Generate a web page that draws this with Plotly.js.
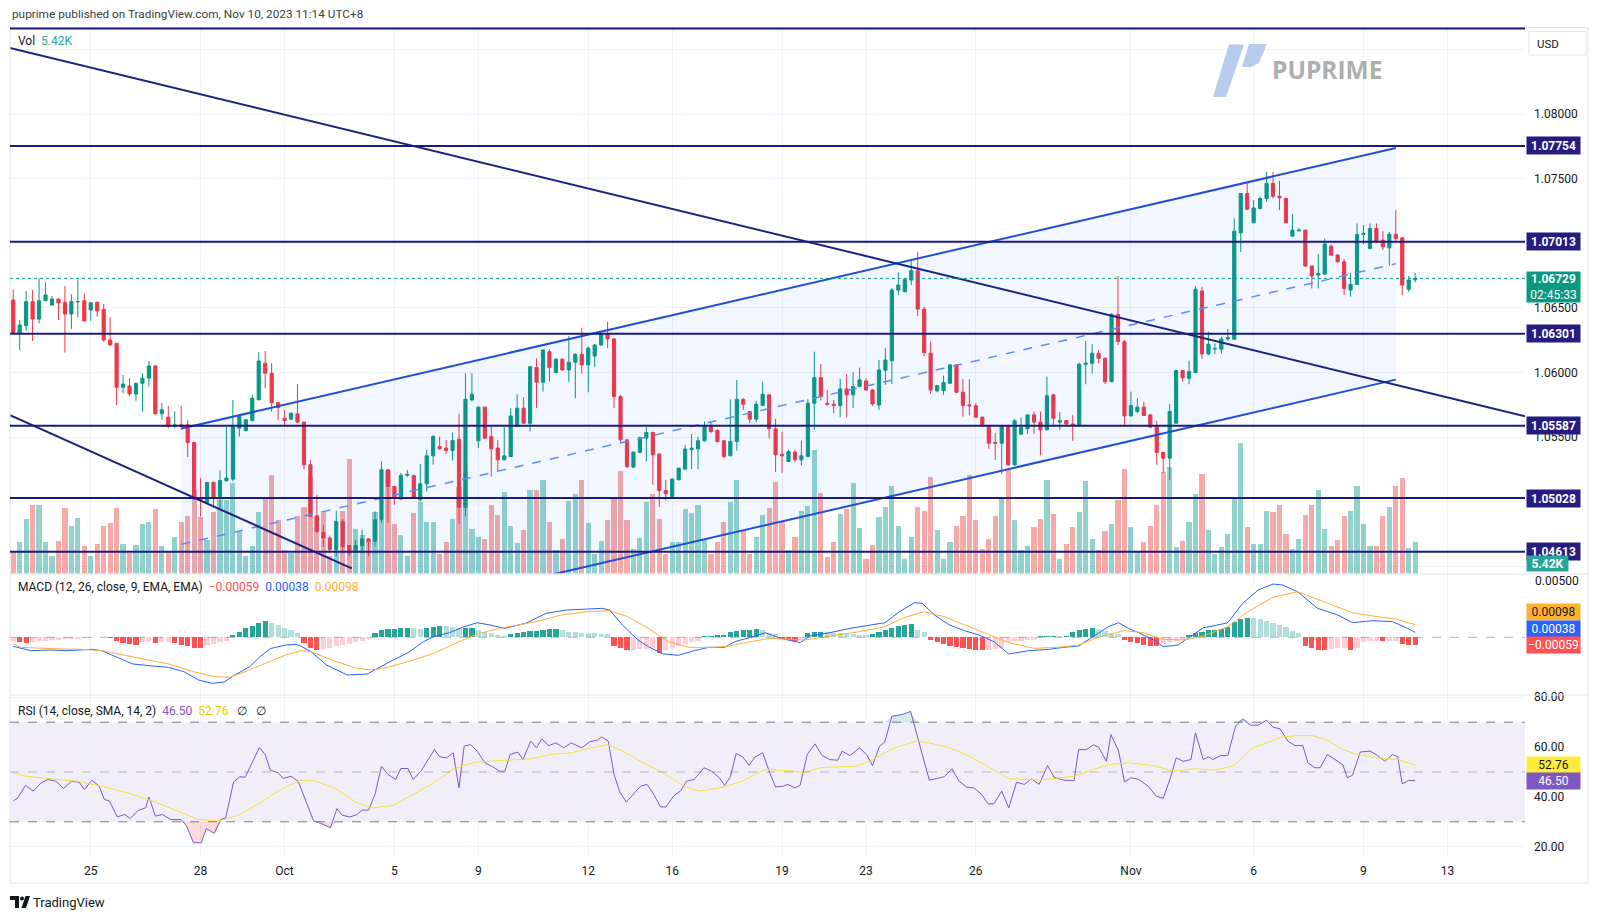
<!DOCTYPE html>
<html><head><meta charset="utf-8">
<script src="https://cdn.plot.ly/plotly-3.0.1.min.js"></script>
<style>html,body{margin:0;padding:0;background:#fff;}#chart{width:1600px;height:919px;}</style>
</head><body><div id="chart"></div>
<script>
// ---------- DATA (EURUSD 4H) ----------
const open = [1.06561,1.06303,1.06362,1.06548,1.06414,1.06556,1.06522,1.06569,1.06543,1.06453,
1.06548,1.06556,1.06484,1.06543,1.06489,1.06252,1.06226,1.05886,1.05896,1.05834,
1.05917,1.05956,1.06051,1.05680,1.05654,1.05582,1.05595,1.05595,1.05458,1.05030,
1.04994,1.05149,1.05041,1.05162,1.05175,1.05569,1.05551,1.05628,1.05788,1.06072,
1.05994,1.05767,1.05646,1.05639,1.05680,1.05616,1.05286,1.04891,1.04762,1.04719,
1.04629,1.04848,1.04660,1.04616,1.04660,1.04712,1.04693,1.04860,1.05247,1.05118,
1.05020,1.05204,1.05201,1.05015,1.05139,1.05355,1.05427,1.05415,1.05396,1.05484,
1.04956,1.05788,1.05471,1.05732,1.05504,1.05415,1.05324,1.05350,1.05582,1.05724,
1.05608,1.06038,1.05925,1.06161,1.05999,1.06103,1.06020,1.06080,1.06141,1.06059,
1.06128,1.06213,1.06303,1.06260,1.05814,1.05479,1.05268,1.05381,1.05492,1.05535,
1.05368,1.05087,1.05041,1.05170,1.05252,1.05402,1.05409,1.05471,1.05582,1.05551,
1.05471,1.05355,1.05466,1.05793,1.05698,1.05639,1.05744,1.05827,1.05564,1.05368,
1.05311,1.05384,1.05324,1.05350,1.05762,1.05960,1.05762,1.05755,1.05744,1.05873,
1.05827,1.05891,1.05935,1.05865,1.05749,1.06018,1.06092,1.06638,1.06625,1.06716,
1.06788,1.06491,1.06149,1.05858,1.05860,1.05917,1.06059,1.05847,1.05749,1.05742,
1.05654,1.05587,1.05458,1.05453,1.05587,1.05286,1.05523,1.05564,1.05672,1.05616,
1.05556,1.05827,1.05616,1.05628,1.05602,1.05587,1.06064,1.06072,1.06149,1.06110,
1.05929,1.06450,1.06239,1.05664,1.05698,1.05732,1.05672,1.05582,1.05381,1.05337,
1.05608,1.06015,1.05956,1.05999,1.06631,1.06144,1.06182,1.06180,1.06260,1.06257,
1.07081,1.07386,1.07159,1.07270,1.07347,1.07463,1.07365,1.07347,1.07056,1.07097,
1.07102,1.06824,1.06754,1.06762,1.06978,1.06909,1.06857,1.06638,1.06682,1.07069,
1.06961,1.07115,1.07025,1.06965,1.07071,1.07043,1.06644,1.06718];
const high = [1.06638,1.06406,1.06631,1.06638,1.06729,1.06698,1.06592,1.06574,1.06669,1.06605,
1.06721,1.06613,1.06540,1.06548,1.06530,1.06427,1.06226,1.05981,1.05956,1.05922,
1.05994,1.06089,1.06055,1.05763,1.05742,1.05698,1.05742,1.05634,1.05466,1.05185,
1.05149,1.05156,1.05242,1.05580,1.05788,1.05672,1.05639,1.05827,1.06157,1.06167,
1.06072,1.05767,1.05711,1.05690,1.05911,1.05616,1.05324,1.05054,1.04822,1.04737,
1.04932,1.04866,1.04660,1.04706,1.04783,1.04719,1.04925,1.05311,1.05252,1.05118,
1.05221,1.05247,1.05209,1.05293,1.05402,1.05517,1.05504,1.05479,1.05535,1.05680,
1.05994,1.05994,1.05736,1.05736,1.05582,1.05479,1.05577,1.05724,1.05832,1.05809,
1.06045,1.06110,1.06175,1.06180,1.06110,1.06110,1.06283,1.06149,1.06347,1.06200,
1.06219,1.06308,1.06393,1.06265,1.05827,1.05487,1.05388,1.05504,1.05577,1.05543,
1.05376,1.05170,1.05180,1.05260,1.05440,1.05525,1.05504,1.05621,1.05621,1.05561,
1.05479,1.05793,1.05943,1.05801,1.05703,1.05780,1.05929,1.05832,1.05641,1.05543,
1.05402,1.05402,1.05473,1.05793,1.06161,1.06066,1.05865,1.05788,1.05950,1.05987,
1.06002,1.06038,1.05956,1.05871,1.06097,1.06188,1.06651,1.06775,1.06721,1.06870,
1.06934,1.06509,1.06239,1.05904,1.05976,1.06064,1.06064,1.05950,1.05950,1.05762,
1.05659,1.05595,1.05530,1.05595,1.05595,1.05641,1.05651,1.05672,1.05698,1.05698,
1.05968,1.05832,1.05693,1.05628,1.05672,1.06076,1.06244,1.06219,1.06175,1.06115,
1.06458,1.06747,1.06252,1.05852,1.05801,1.05770,1.05677,1.05626,1.05388,1.05757,
1.06020,1.06020,1.06092,1.06669,1.06664,1.06316,1.06226,1.06277,1.06337,1.07193,
1.07390,1.07463,1.07334,1.07360,1.07553,1.07553,1.07483,1.07355,1.07226,1.07120,
1.07107,1.06824,1.06917,1.07038,1.06992,1.06917,1.06878,1.06772,1.07154,1.07141,
1.07154,1.07154,1.07094,1.07089,1.07257,1.07046,1.06747,1.06770];
const low = [1.06303,1.06170,1.06321,1.06244,1.06380,1.06556,1.06517,1.06406,1.06154,1.06337,
1.06427,1.06399,1.06401,1.06432,1.06239,1.06208,1.05749,1.05839,1.05815,1.05782,
1.05698,1.05891,1.05680,1.05634,1.05569,1.05569,1.05556,1.05345,1.05015,1.04886,
1.04990,1.04951,1.04951,1.05154,1.05156,1.05504,1.05543,1.05621,1.05788,1.05878,
1.05698,1.05634,1.05582,1.05634,1.05608,1.05252,1.04886,1.04757,1.04649,1.04603,
1.04577,1.04603,1.04577,1.04603,1.04603,1.04577,1.04654,1.04835,1.04835,1.04976,
1.05015,1.05193,1.05028,1.05002,1.05079,1.05286,1.05402,1.05370,1.05319,1.04829,
1.04886,1.05775,1.05415,1.05484,1.05195,1.05234,1.05324,1.05350,1.05582,1.05602,
1.05543,1.05724,1.05852,1.05929,1.05994,1.06015,1.05929,1.05801,1.05994,1.05847,
1.06045,1.06205,1.06188,1.05724,1.05453,1.05260,1.05260,1.05376,1.05311,1.05131,
1.04959,1.05010,1.05036,1.05164,1.05252,1.05252,1.05252,1.05466,1.05530,1.05458,
1.05337,1.05355,1.05396,1.05711,1.05608,1.05616,1.05742,1.05492,1.05229,1.05221,
1.05306,1.05306,1.05280,1.05345,1.05556,1.05783,1.05742,1.05685,1.05654,1.05651,
1.05724,1.05886,1.05860,1.05742,1.05711,1.05904,1.05911,1.06600,1.06625,1.06677,
1.06437,1.06128,1.05834,1.05847,1.05827,1.05911,1.05840,1.05659,1.05667,1.05651,
1.05582,1.05409,1.05324,1.05216,1.05278,1.05273,1.05520,1.05525,1.05525,1.05358,
1.05556,1.05582,1.05556,1.05595,1.05471,1.05582,1.05909,1.05994,1.06072,1.05911,
1.05925,1.06213,1.05582,1.05659,1.05685,1.05664,1.05577,1.05286,1.05221,1.05170,
1.05602,1.05929,1.05909,1.05994,1.06105,1.06136,1.06144,1.06144,1.06246,1.06252,
1.06934,1.07257,1.07159,1.07262,1.07321,1.07347,1.07257,1.07159,1.07050,1.07094,
1.06818,1.06651,1.06651,1.06754,1.06901,1.06852,1.06600,1.06587,1.06677,1.06994,
1.06955,1.07007,1.06948,1.06826,1.07012,1.06600,1.06625,1.06700];
const close = [1.06303,1.06368,1.06548,1.06414,1.06556,1.06600,1.06569,1.06540,1.06453,1.06548,
1.06549,1.06399,1.06540,1.06476,1.06252,1.06213,1.05886,1.05911,1.05834,1.05917,
1.05956,1.06051,1.05680,1.05711,1.05582,1.05595,1.05582,1.05458,1.05020,1.05015,
1.05149,1.05028,1.05164,1.05183,1.05582,1.05659,1.05634,1.05801,1.06089,1.05994,
1.05767,1.05728,1.05628,1.05685,1.05616,1.05286,1.04886,1.04770,1.04719,1.04629,
1.04848,1.04654,1.04603,1.04660,1.04712,1.04693,1.04860,1.05247,1.05118,1.05028,
1.05203,1.05211,1.05028,1.05139,1.05355,1.05504,1.05409,1.05396,1.05474,1.04956,
1.05793,1.05832,1.05732,1.05492,1.05409,1.05324,1.05355,1.05664,1.05724,1.05608,
1.06045,1.05925,1.06175,1.06038,1.06103,1.06020,1.06080,1.06141,1.06059,1.06188,
1.06213,1.06303,1.06260,1.05814,1.05479,1.05272,1.05384,1.05497,1.05535,1.05363,
1.05087,1.05061,1.05175,1.05260,1.05407,1.05415,1.05471,1.05582,1.05543,1.05466,
1.05350,1.05466,1.05793,1.05755,1.05639,1.05755,1.05832,1.05564,1.05363,1.05355,
1.05388,1.05324,1.05355,1.05762,1.05960,1.05814,1.05755,1.05744,1.05873,1.05827,
1.05891,1.05943,1.05865,1.05757,1.06020,1.06097,1.06638,1.06677,1.06721,1.06788,
1.06491,1.06154,1.05865,1.05898,1.05922,1.06059,1.05847,1.05744,1.05742,1.05654,
1.05587,1.05453,1.05453,1.05587,1.05286,1.05626,1.05574,1.05672,1.05616,1.05556,
1.05821,1.05646,1.05626,1.05602,1.05595,1.06064,1.06072,1.06149,1.06110,1.05929,
1.06450,1.06239,1.05664,1.05744,1.05732,1.05667,1.05577,1.05381,1.05337,1.05698,
1.06015,1.05960,1.06007,1.06644,1.06144,1.06219,1.06186,1.06260,1.06270,1.07094,
1.07386,1.07264,1.07274,1.07347,1.07463,1.07365,1.07352,1.07159,1.07102,1.07102,
1.06824,1.06747,1.06767,1.06994,1.06909,1.06857,1.06651,1.06682,1.07069,1.07077,
1.07115,1.07012,1.06973,1.07071,1.07038,1.06677,1.06716,1.06729];
// volume, thousands
const volumeK = [3.9,5.4,9.5,11.8,11.8,5.5,3.1,5.7,11.4,8.2,
9.6,4.8,3.0,5.1,8.2,8.8,11.4,5.1,3.5,5.0,
8.6,9.0,11.1,4.7,3.7,6.4,8.9,10.0,14.4,9.7,
5.8,10.6,12.8,12.8,15.6,7.3,3.1,4.7,10.6,12.9,
17.0,9.3,4.1,3.5,9.9,11.5,16.7,9.7,10.9,3.1,
4.0,10.9,19.8,7.7,6.6,5.8,10.6,9.2,17.8,8.6,
6.7,3.1,10.4,12.3,8.9,8.9,3.4,5.4,9.5,14.9,
17.8,7.7,6.3,6.0,11.9,10.2,14.1,8.3,5.2,7.6,
14.4,14.4,16.2,9.0,4.0,6.0,12.5,13.8,16.1,8.7,
3.4,5.7,9.2,12.9,17.8,9.2,4.2,6.2,12.3,13.7,
9.5,3.4,5.4,5.4,11.2,10.4,11.9,5.9,3.4,5.4,
8.9,12.3,16.2,7.4,3.4,6.4,10.2,11.4,15.8,8.9,
4.0,6.4,10.9,11.6,21.4,14.0,2.8,5.4,10.3,11.2,
15.6,7.9,2.5,5.0,9.7,11.5,15.2,8.3,2.5,6.3,
11.5,10.9,16.7,7.6,2.5,5.4,8.3,9.9,17.0,9.2,
4.3,6.0,9.9,12.9,18.3,9.3,4.1,4.8,8.0,9.5,
16.2,10.3,2.5,5.1,8.1,10.6,16.0,6.0,4.0,7.4,
8.6,12.8,18.1,8.0,3.7,5.4,8.3,11.8,17.5,18.5,
4.6,5.6,9.0,13.8,17.2,7.6,3.3,4.6,6.9,12.9,
22.6,8.1,5.1,5.1,10.9,10.6,11.9,6.9,4.3,6.0,
10.2,11.9,14.5,7.7,4.7,5.8,9.9,10.9,15.2,8.6,
4.8,4.7,9.9,11.5,15.2,16.5,4.5,5.42];
const macdHist = [-0.00030,-0.00038,-0.00042,-0.00036,-0.00030,-0.00026,-0.00022,-0.00018,-0.00015,-0.00012,
-0.00010,-0.00008,-0.00004,0.00002,0.00003,-0.00006,-0.00030,-0.00045,-0.00052,-0.00058,
-0.00040,-0.00032,-0.00042,-0.00040,-0.00038,-0.00045,-0.00058,-0.00068,-0.00080,-0.00085,
-0.00060,-0.00050,-0.00040,-0.00028,0.00018,0.00045,0.00070,0.00092,0.00110,0.00125,
0.00115,0.00095,0.00075,0.00055,0.00030,-0.00045,-0.00080,-0.00095,-0.00090,-0.00082,
-0.00070,-0.00060,-0.00050,-0.00040,-0.00028,-0.00015,0.00030,0.00055,0.00062,0.00068,
0.00070,0.00072,0.00070,0.00068,0.00070,0.00080,0.00092,0.00085,0.00080,0.00070,
0.00072,0.00075,0.00060,0.00042,0.00030,0.00020,0.00012,0.00025,0.00032,0.00040,
0.00048,0.00052,0.00058,0.00062,0.00064,0.00060,0.00045,0.00040,0.00036,0.00032,
0.00030,0.00028,0.00025,-0.00065,-0.00085,-0.00100,-0.00095,-0.00090,-0.00088,-0.00080,
-0.00120,-0.00100,-0.00085,-0.00070,-0.00055,-0.00040,-0.00025,0.00008,0.00012,0.00015,
0.00020,0.00045,0.00052,0.00058,0.00060,0.00062,0.00055,0.00035,0.00025,-0.00015,
-0.00022,-0.00025,-0.00010,0.00036,0.00042,0.00044,0.00038,0.00034,0.00032,0.00030,
0.00026,0.00022,0.00020,0.00028,0.00040,0.00055,0.00075,0.00090,0.00100,0.00105,
0.00060,0.00040,-0.00020,-0.00035,-0.00050,-0.00065,-0.00075,-0.00082,-0.00090,-0.00095,
-0.00100,-0.00098,-0.00092,-0.00085,-0.00035,-0.00030,-0.00025,-0.00022,-0.00020,0.00008,
0.00010,0.00012,0.00010,0.00012,0.00045,0.00058,0.00068,0.00072,0.00068,0.00050,
0.00035,0.00025,-0.00020,-0.00035,-0.00048,-0.00058,-0.00065,-0.00070,-0.00050,-0.00040,
-0.00030,-0.00020,0.00020,0.00030,0.00040,0.00055,0.00060,0.00065,0.00080,0.00120,
0.00145,0.00150,0.00148,0.00140,0.00128,0.00115,0.00100,0.00080,0.00050,0.00030,
-0.00070,-0.00085,-0.00095,-0.00100,-0.00090,-0.00085,-0.00080,-0.00095,-0.00080,-0.00035,
-0.00030,-0.00025,-0.00030,-0.00028,-0.00025,-0.00050,-0.00058,-0.00059];
// [candle index, value]
const macdPoints = [[0,-0.0007],[2.7,-0.00104],[5.8,-0.00099],[8.2,-0.00104],[12.2,-0.00094],[13.7,-0.00104],[16.1,-0.00156],[18.5,-0.00208],[21.6,-0.00224],[24,-0.00234],[26.4,-0.00268],[28.7,-0.00333],[30.7,-0.00359],[32.7,-0.00348],[34.3,-0.00294],[36.6,-0.00229],[38.2,-0.00151],[39.8,-0.00088],[42.2,-0.0006],[43.8,-0.00055],[44.5,-0.00068],[46.1,-0.00112],[48.5,-0.00216],[51.7,-0.00294],[54.8,-0.00286],[56.4,-0.00242],[58.8,-0.00177],[61.1,-0.0012],[63.5,-0.00034],[65.1,0.00005],[67.5,0.00036],[69.8,0.00083],[71.8,0.00114],[73.8,0.00096],[76.1,0.0007],[79.3,0.00109],[82.5,0.00187],[85.6,0.00213],[88.8,0.00218],[91.1,0.00226],[92.3,0.00213],[94.3,0.00096],[96.7,-0.00021],[98.3,-0.00073],[100.6,-0.0013],[103,-0.0014],[105.4,-0.00104],[107.7,-0.00078],[110.1,-0.00078],[111.7,-0.00034],[114.8,0.0001],[116.4,0.00036],[118.8,-0.00008],[121.8,-0.00042],[123.3,0.0001],[126.4,0.00036],[129.5,0.0007],[131.8,0.00091],[134.9,0.00114],[137.2,0.002],[139.5,0.0027],[140.7,0.00265],[142.6,0.00174],[144.9,0.00096],[147.2,0.00052],[149.5,0.00018],[151.8,-0.00034],[154.1,-0.0013],[157.2,-0.00104],[160.3,-0.00094],[162.6,-0.00078],[164.9,-0.00068],[167.2,0.00005],[169.5,0.00083],[171.1,0.00114],[172.6,0.0007],[174.2,0.00036],[176.5,-0.00021],[178,-0.00073],[180.3,-0.0006],[182.6,0.00018],[184.2,0.00075],[185.7,0.00088],[188,0.00114],[190.3,0.00265],[192.7,0.00369],[195,0.00416],[196.5,0.00408],[198.8,0.00356],[201.9,0.00226],[205,0.00174],[207.3,0.00114],[210.4,0.0013],[213.5,0.00122],[215.8,0.0007],[217,0.00038]];
const signalPoints = [[0,-0.0005],[1.1,-0.00078],[5.8,-0.00088],[10.6,-0.00094],[13.7,-0.00104],[16.9,-0.00138],[20.1,-0.00172],[24,-0.00208],[27.9,-0.00268],[31.1,-0.00307],[33.5,-0.00312],[35.9,-0.00268],[39,-0.00203],[42.2,-0.00138],[44.5,-0.00104],[46.1,-0.00112],[49.3,-0.00177],[53.2,-0.00242],[55.6,-0.00255],[58,-0.00234],[61.1,-0.0019],[65.1,-0.00125],[69,-0.00034],[72.2,0.00031],[75.3,0.0007],[80.9,0.00122],[84.8,0.00174],[88.8,0.002],[92.3,0.00208],[95.1,0.00161],[98.3,0.0007],[101.4,-0.00034],[104.6,-0.00078],[108.5,-0.00078],[110.9,-0.00068],[114.1,-0.00034],[117.2,-0.00008],[122.5,-0.00021],[126.4,0.0001],[131,0.00044],[134.9,0.00083],[138,0.00156],[141,0.002],[144.1,0.00161],[148,0.00083],[151.1,0.00018],[154.1,-0.00042],[158,-0.00086],[161.8,-0.00078],[164.9,-0.0006],[168,0],[171.9,0.00052],[175,0.00036],[178,-0.00016],[181.1,-0.00021],[184.2,0.0001],[188,0.00083],[191.1,0.002],[195,0.00312],[198.8,0.00356],[202.7,0.00278],[207.3,0.00192],[211.2,0.00161],[214.2,0.0014],[217,0.00098]];
const rsiPoints = [[0,38.3],[0.7,39.6],[1.9,44.6],[3.1,42.3],[4.3,45.6],[5.4,47.0],[6.6,46.3],[7.8,43.4],[9.0,46.3],[10.2,45.9],[11.0,43.0],[12.2,46.7],[13.3,44.3],[14.1,39.0],[14.9,38.3],[16.1,32.0],[17.3,32.9],[18.1,31.3],[19.3,34.5],[20.5,35.6],[21.0,40.0],[22.0,32.3],[23.1,32.9],[24.4,30.9],[26.0,30.9],[26.8,28.5],[27.9,21.6],[29.1,21.6],[29.9,27.3],[31.1,25.3],[32.1,30.9],[32.9,31.6],[34.1,46.0],[35.1,48.1],[35.9,47.9],[37.0,53.7],[38.1,59.8],[39.0,57.0],[39.8,50.7],[41.0,49.7],[41.8,47.4],[43.0,48.3],[44.1,46.3],[45.3,38.3],[46.5,30.3],[47.7,29.3],[49.1,27.6],[50.1,35.3],[50.9,32.7],[52.1,31.9],[53.2,32.9],[54.0,34.7],[55.0,34.7],[56.0,41.0],[57.0,52.3],[58.0,49.0],[59.2,47.0],[60.0,51.4],[61.1,51.4],[61.9,47.0],[63.1,50.3],[64.3,55.3],[65.2,59.0],[66.0,56.1],[67.1,55.7],[68.1,57.7],[69.0,43.6],[69.8,60.4],[70.8,61.0],[71.8,58.4],[73.0,53.7],[74.2,52.1],[75.3,50.3],[76.1,50.3],[76.9,57.0],[78.1,58.0],[78.9,55.0],[80.1,62.4],[81.0,59.7],[81.8,63.3],[82.9,60.6],[84.0,61.7],[85.2,59.7],[86.4,61.7],[88.0,59.7],[89.2,62.1],[90.4,62.8],[91.1,64.1],[92.1,62.4],[93.0,49.0],[93.9,41.9],[94.9,37.9],[95.9,41.0],[97.1,44.3],[98.1,45.0],[99.0,41.6],[100.2,36.0],[101.0,35.9],[102.2,40.3],[103.4,42.7],[104.2,46.3],[105.4,47.0],[106.9,51.7],[108.1,50.3],[109.3,47.7],[110.1,44.6],[111.0,48.1],[111.9,57.4],[112.9,56.1],[113.9,52.7],[114.8,56.0],[116.0,57.7],[117.1,49.7],[118.0,44.0],[119.2,44.3],[119.9,45.0],[121.0,43.6],[121.8,44.6],[122.9,57.0],[124.1,61.3],[125.2,56.6],[126.4,55.0],[127.6,54.7],[128.3,58.4],[129.5,56.6],[131.0,59.7],[132.2,56.6],[133.0,52.6],[134.1,60.4],[134.9,62.0],[136.0,72.4],[137.6,73.1],[138.9,74.3],[139.9,64.4],[141.8,46.7],[143.0,47.4],[144.1,48.1],[145.3,51.3],[146.4,46.3],[147.6,43.9],[148.7,43.6],[149.9,41.0],[150.9,37.2],[151.8,37.2],[153.0,42.3],[154.1,35.6],[155.3,45.9],[156.5,45.0],[157.6,47.3],[158.8,45.0],[160.1,52.6],[161.1,47.9],[162.6,46.7],[164.2,46.5],[164.9,59.0],[166.1,59.0],[167.2,60.9],[168.0,60.0],[169.2,54.3],[169.9,65.0],[171.1,58.4],[172.0,46.0],[173.0,47.7],[174.2,47.0],[175.7,44.3],[176.9,40.3],[178.0,39.4],[179.2,48.3],[180.0,55.7],[181.1,54.3],[182.3,55.0],[183.0,65.7],[184.2,55.0],[185.0,56.1],[185.7,55.0],[186.9,56.6],[188.0,56.6],[189.2,68.4],[190.3,71.3],[191.5,68.8],[192.7,68.8],[194.0,70.8],[195.0,68.0],[196.1,67.3],[197.3,62.4],[198.4,60.6],[199.6,60.6],[200.4,53.7],[201.5,51.7],[202.3,51.7],[203.4,57.0],[204.6,55.0],[205.8,52.9],[206.5,47.7],[207.3,48.7],[208.5,58.0],[210.0,58.4],[211.2,56.6],[212.3,54.3],[213.5,57.0],[214.3,56.1],[215.0,45.2],[216.0,46.6],[217.0,46.5]];
const rsiSmaPoints = [[0,49.7],[1.9,48.3],[5.8,47.3],[9.8,46.3],[13.7,44.3],[17.7,41.6],[21.6,38.3],[25.6,34.3],[28.7,30.9],[31.9,30.3],[35.1,32.9],[38.2,37.6],[41.4,43.0],[44.5,46.7],[46.9,46.3],[50.1,43.0],[53.2,37.6],[55.6,35.6],[58.8,36.6],[61.9,41.0],[65.1,45.6],[68.2,51.3],[71.4,53.9],[74.6,54.5],[76.9,54.9],[80.1,55.3],[83.2,57.0],[86.4,57.7],[89.6,59.7],[91.9,61.0],[94.3,58.4],[97.5,53.7],[100.6,49.7],[103.8,44.3],[106.2,42.3],[109.3,43.6],[112.5,45.9],[116.4,51.0],[118.8,50.7],[121.0,50.3],[122.2,49.7],[124.9,51.7],[127.9,52.1],[130.3,52.3],[132.6,54.3],[134.9,57.7],[137.2,60.4],[139.9,62.4],[141.8,61.7],[144.9,59.7],[148.0,56.4],[151.1,51.7],[154.1,47.3],[157.2,47.0],[158.8,46.7],[161.1,47.4],[164.2,48.3],[167.2,51.0],[169.5,53.0],[172.6,53.7],[176.5,52.6],[179.6,50.3],[182.6,51.3],[185.7,50.7],[188.8,52.3],[191.9,59.7],[194.2,62.0],[196.5,64.1],[198.8,64.6],[201.1,64.6],[203.4,62.8],[205.8,59.0],[208.1,57.0],[211.2,55.7],[214.2,55.0],[217.0,52.76]];
const tickIdx = [12,29,42,59,72,89,102,119,132,149,173,192,209,222];
const tickText = ['25','28','Oct','5','9','12','16','19','23','26','Nov','6','9','13'];
const levels = [1.07754,1.07013,1.06301,1.05587,1.05028,1.04613];
const lastPrice = 1.06729;
const rsiBand = [30, 70];
// drawings: [candle index, price]
const trendDownX = [-0.5, 234], trendDownY = [1.08513, 1.05661];
const trendLowX = [-0.5, 52.4], trendLowY = [1.05669, 1.04484];
const chanX = [26.05, 214];
const chanUpper = [1.05566, 1.07738];
const chanLower = [1.03773, 1.05945];
const chanMid = [1.04670, 1.06842];

// ---------- helpers ----------
const W = 1600, H = 919;
const X = p => p / W, Y = p => 1 - p / H;
const idx = open.map((_, i) => i);
const FONT = 'Roboto, "Liberation Sans", Arial, sans-serif';
const up = close.map((c, i) => c >= open[i]);
const volColors = up.map(u => u ? 'rgba(38,166,154,0.5)' : 'rgba(239,83,80,0.5)');
const histColors = macdHist.map((h, i) => {
  const p = i > 0 ? macdHist[i - 1] : h;
  if (h >= 0) return h > p ? '#26A69A' : '#B2DFDB';
  return h < p ? '#FF5252' : '#FFCDD2';
});
const pathOf = pts => 'M ' + pts.map(p => X(p[0]).toFixed(5) + ',' + Y(p[1]).toFixed(5)).join(' L ') + ' Z';
const rsiX = rsiPoints.map(p => p[0]), rsiY = rsiPoints.map(p => p[1]);
const xRange = [-0.5, 234];

const traces = [
  {type:'bar', x:idx, y:volumeK, xaxis:'x', yaxis:'y', marker:{color:volColors, line:{width:0}}, width:0.8, hoverinfo:'skip'},
  {type:'scatter', mode:'none', x:[chanX[0], chanX[1], chanX[1], chanX[0]], y:[chanUpper[0], chanUpper[1], chanLower[1], chanLower[0]],
   xaxis:'x', yaxis:'y2', fill:'toself', fillcolor:'rgba(41,118,255,0.065)', hoverinfo:'skip'},
  {type:'candlestick', x:idx, open:open, high:high, low:low, close:close, xaxis:'x', yaxis:'y2',
   increasing:{line:{color:'#089981', width:1}, fillcolor:'#089981'},
   decreasing:{line:{color:'#F23645', width:1}, fillcolor:'#F23645'},
   whiskerwidth:0, hoverinfo:'skip'},
  {type:'scatter', mode:'lines', x:chanX, y:chanMid, xaxis:'x', yaxis:'y2', line:{color:'#5C8EF2', width:1.5, dash:'dash'}, hoverinfo:'skip'},
  {type:'scatter', mode:'lines', x:chanX, y:chanUpper, xaxis:'x', yaxis:'y2', line:{color:'#1F4FD6', width:2}, hoverinfo:'skip'},
  {type:'scatter', mode:'lines', x:chanX, y:chanLower, xaxis:'x', yaxis:'y2', line:{color:'#1F4FD6', width:2}, hoverinfo:'skip'},
  {type:'scatter', mode:'lines', x:trendDownX, y:trendDownY, xaxis:'x', yaxis:'y2', line:{color:'#1A2380', width:2}, hoverinfo:'skip'},
  {type:'scatter', mode:'lines', x:trendLowX, y:trendLowY, xaxis:'x', yaxis:'y2', line:{color:'#1A2380', width:2}, hoverinfo:'skip'},
  {type:'bar', x:idx, y:macdHist, xaxis:'x2', yaxis:'y3', marker:{color:histColors, line:{width:0}}, width:0.8, hoverinfo:'skip'},
  {type:'scatter', mode:'lines', x:macdPoints.map(p=>p[0]), y:macdPoints.map(p=>p[1]), xaxis:'x2', yaxis:'y3', line:{color:'#2962FF', width:1}, hoverinfo:'skip'},
  {type:'scatter', mode:'lines', x:signalPoints.map(p=>p[0]), y:signalPoints.map(p=>p[1]), xaxis:'x2', yaxis:'y3', line:{color:'#FFAE34', width:1}, hoverinfo:'skip'},
  {type:'scatter', mode:'lines', x:rsiX, y:rsiX.map(() => rsiBand[1]), xaxis:'x3', yaxis:'y4', line:{width:0}, hoverinfo:'skip'},
  {type:'scatter', mode:'lines', x:rsiX, y:rsiY.map(v => Math.max(v, rsiBand[1])), xaxis:'x3', yaxis:'y4', line:{width:0}, fill:'tonexty', fillcolor:'rgba(8,153,129,0.18)', hoverinfo:'skip'},
  {type:'scatter', mode:'lines', x:rsiX, y:rsiX.map(() => rsiBand[0]), xaxis:'x3', yaxis:'y4', line:{width:0}, hoverinfo:'skip'},
  {type:'scatter', mode:'lines', x:rsiX, y:rsiY.map(v => Math.min(v, rsiBand[0])), xaxis:'x3', yaxis:'y4', line:{width:0}, fill:'tonexty', fillcolor:'rgba(242,54,69,0.18)', hoverinfo:'skip'},
  {type:'scatter', mode:'lines', x:rsiX, y:rsiY, xaxis:'x3', yaxis:'y4', line:{color:'#7E57C2', width:1}, hoverinfo:'skip'},
  {type:'scatter', mode:'lines', x:rsiSmaPoints.map(p=>p[0]), y:rsiSmaPoints.map(p=>p[1]), xaxis:'x3', yaxis:'y4', line:{color:'#F5E03A', width:1}, hoverinfo:'skip'}
];

const xDom = [X(10), X(1525)];
const gridC = '#F0F3FA';
const baseX = {domain:xDom, range:xRange, tickvals:tickIdx, ticktext:tickText, showgrid:true, gridcolor:gridC, gridwidth:1,
  zeroline:false, showline:false, ticks:'', fixedrange:true, rangeslider:{visible:false}};
const tickFont = {family:FONT, size:12, color:'#131722'};

const shapes = [];
shapes.push({type:'rect', xref:'paper', yref:'paper', x0:X(10), x1:X(1588), y0:Y(883), y1:Y(27.5), line:{color:'#E0E3EB', width:1}});
shapes.push({type:'rect', xref:'x3 domain', x0:0, x1:1, yref:'y4', y0:rsiBand[0], y1:rsiBand[1], fillcolor:'rgba(126,87,194,0.1)', line:{width:0}, layer:'below'});
rsiBand.forEach(v => shapes.push({type:'line', xref:'x3 domain', x0:0, x1:1, yref:'y4', y0:v, y1:v, line:{color:'#787B86', width:1, dash:'dash'}}));
shapes.push({type:'line', xref:'x3 domain', x0:0, x1:1, yref:'y4', y0:50, y1:50, line:{color:'rgba(120,123,134,0.5)', width:1, dash:'dash'}});
shapes.push({type:'line', xref:'x2 domain', x0:0, x1:1, yref:'y3', y0:0, y1:0, line:{color:'rgba(120,123,134,0.55)', width:1, dash:'dash'}});
shapes.push({type:'line', xref:'x domain', x0:0, x1:1, yref:'y2', y0:lastPrice, y1:lastPrice, line:{color:'#089981', width:1, dash:'dot'}});
levels.forEach(v => shapes.push({type:'line', xref:'x domain', x0:0, x1:1, yref:'y2', y0:v, y1:v, line:{color:'#1B1A7E', width:2}}));
shapes.push({type:'line', xref:'paper', yref:'paper', x0:X(10), x1:X(1525), y0:Y(28.6), y1:Y(28.6), line:{color:'#1B1A7E', width:2}});
shapes.push({type:'line', xref:'paper', yref:'paper', x0:X(10), x1:X(1588), y0:Y(574), y1:Y(574), line:{color:'#E0E3EB', width:1}});
shapes.push({type:'line', xref:'paper', yref:'paper', x0:X(10), x1:X(1588), y0:Y(695), y1:Y(695), line:{color:'#E0E3EB', width:1}});
shapes.push({type:'rect', xref:'paper', yref:'paper', x0:X(1529), x1:X(1586), y0:Y(55), y1:Y(31.5), line:{color:'#E0E3EB', width:1}, fillcolor:'#FFFFFF'});
shapes.push({type:'path', xref:'paper', yref:'paper', path:pathOf([[1229,44.5],[1244,44.5],[1226,97],[1213,97]]), fillcolor:'#B7CCEC', line:{width:0}});
shapes.push({type:'path', xref:'paper', yref:'paper', path:pathOf([[1249,44],[1267,44],[1259,63],[1251,67],[1242,67]]), fillcolor:'#B7CCEC', line:{width:0}});
shapes.push({type:'path', xref:'paper', yref:'paper', path:pathOf([[10,896],[19,896],[19,908],[15,908],[15,900],[10,900]]), fillcolor:'#131722', line:{width:0}});
shapes.push({type:'circle', xref:'paper', yref:'paper', x0:X(20), x1:X(24), y0:Y(900.5), y1:Y(896.5), fillcolor:'#131722', line:{width:0}});
shapes.push({type:'path', xref:'paper', yref:'paper', path:pathOf([[25.5,896],[30,896],[26,908],[21.5,908]]), fillcolor:'#131722', line:{width:0}});

const ann = [];
const A = (o) => ann.push(Object.assign({showarrow:false, font:{family:FONT, size:12, color:'#131722'}}, o));
A({xref:'paper', yref:'paper', x:X(10), y:Y(14.5), xanchor:'left', yanchor:'middle', text:'puprime published on TradingView.com, Nov 10, 2023 11:14 UTC+8', font:{family:FONT, size:11.8, color:'#3a3d45'}});
A({xref:'paper', yref:'paper', x:X(16), y:Y(41.5), xanchor:'left', yanchor:'middle', text:'Vol\u00a0\u00a0<span style="color:#26A69A">5.42K</span>'});
A({xref:'paper', yref:'paper', x:X(16), y:Y(587), xanchor:'left', yanchor:'middle',
   text:'MACD (12, 26, close, 9, EMA, EMA)\u00a0\u00a0<span style="color:#FF5252">\u22120.00059</span>\u00a0\u00a0<span style="color:#2962FF">0.00038</span>\u00a0\u00a0<span style="color:#FFAE34">0.00098</span>'});
A({xref:'paper', yref:'paper', x:X(16), y:Y(710.5), xanchor:'left', yanchor:'middle',
   text:'RSI (14, close, SMA, 14, 2)\u00a0\u00a0<span style="color:#7E57C2">46.50</span>\u00a0\u00a0<span style="color:#E6CF00">52.76</span>\u00a0\u00a0\u00a0∅\u00a0\u00a0\u00a0∅'});
levels.forEach(v => A({xref:'paper', x:X(1526), xanchor:'left', yref:'y2', y:v, yanchor:'middle', text:'<b>'+v.toFixed(5)+'</b>',
  font:{family:FONT, size:12, color:'#FFFFFF'}, bgcolor:'#261C80', borderpad:1.5, width:50, height:14, align:'center'}));
A({xref:'paper', x:X(1526), xanchor:'left', yref:'y2', y:lastPrice, yanchor:'top', yshift:7.5, text:'<b>1.06729</b><br>02:45:33',
  font:{family:FONT, size:12, color:'#FFFFFF'}, bgcolor:'#089981', borderpad:1.5, width:50, height:27, align:'center'});
A({xref:'paper', yref:'paper', x:X(1526), xanchor:'left', y:Y(563.5), yanchor:'middle', text:'<b>5.42K</b>',
  font:{family:FONT, size:12, color:'#FFFFFF'}, bgcolor:'#26A69A', borderpad:1.5, width:38, height:12, align:'center'});
// MACD scale label at the top of its pane
A({xref:'paper', yref:'paper', x:X(1533), y:Y(580.5), xanchor:'left', yanchor:'middle', text:'0.00500'});
A({xref:'paper', yref:'paper', x:X(1526), xanchor:'left', y:Y(611.8), yanchor:'middle', text:'0.00098', font:{family:FONT, size:12, color:'#131722'}, bgcolor:'#FFB22E', borderpad:1.5, width:50, height:13, align:'center'});
A({xref:'paper', yref:'paper', x:X(1526), xanchor:'left', y:Y(628.5), yanchor:'middle', text:'0.00038', font:{family:FONT, size:12, color:'#FFFFFF'}, bgcolor:'#2962FF', borderpad:1.5, width:50, height:13, align:'center'});
A({xref:'paper', yref:'paper', x:X(1526), xanchor:'left', y:Y(645), yanchor:'middle', text:'\u22120.00059', font:{family:FONT, size:12, color:'#FFFFFF'}, bgcolor:'#FF5252', borderpad:1.5, width:50, height:13, align:'center'});
A({xref:'paper', x:X(1526), xanchor:'left', yref:'y4', y:52.76, yanchor:'middle', text:'52.76', font:{family:FONT, size:12, color:'#131722'}, bgcolor:'#FFEB3B', borderpad:1.5, width:50, height:13, align:'center'});
A({xref:'paper', x:X(1526), xanchor:'left', yref:'y4', y:46.50, yanchor:'middle', text:'46.50', font:{family:FONT, size:12, color:'#FFFFFF'}, bgcolor:'#7E57C2', borderpad:1.5, width:50, height:13, align:'center'});
A({xref:'paper', yref:'paper', x:X(1535), y:Y(43.5), xanchor:'left', yanchor:'middle', text:'USD', font:{family:FONT, size:11.5, color:'#131722'}});
A({xref:'paper', yref:'paper', x:X(1270), y:Y(69.5), xanchor:'left', yanchor:'middle', text:'<b>PUPRIME</b>', font:{family:'"Open Sans", Roboto, sans-serif', size:24.5, color:'#AEAEAE'}});
A({xref:'paper', yref:'paper', x:X(31), y:Y(902), xanchor:'left', yanchor:'middle', text:'TradingView', font:{family:FONT, size:13, color:'#131722'}});

const layout = {
  width:W, height:H, margin:{l:0, r:0, t:0, b:0}, paper_bgcolor:'#FFFFFF', plot_bgcolor:'rgba(0,0,0,0)',
  showlegend:false, hovermode:false, dragmode:false, bargap:0,
  xaxis: Object.assign({}, baseX, {anchor:'y', showticklabels:false}),
  xaxis2: Object.assign({}, baseX, {anchor:'y3', showticklabels:false}),
  xaxis3: Object.assign({}, baseX, {anchor:'y4', showticklabels:true, tickfont:tickFont, ticklabelstandoff:4}),
  yaxis: {domain:[Y(573.5), Y(27.5)], range:[0, 94.5], visible:false, fixedrange:true},
  yaxis2: {overlaying:'y', anchor:'x', side:'right', range:[1.04444, 1.08671],
    tickvals:[1.045,1.05,1.055,1.06,1.065,1.07,1.075,1.08,1.085], ticktext:['','','1.05500','1.06000','1.06500','','1.07500','1.08000',''],
    showgrid:true, gridcolor:gridC, zeroline:false, showline:false, ticks:'', tickfont:tickFont, ticklabelstandoff:8, fixedrange:true},
  yaxis3: {domain:[Y(695), Y(574)], anchor:'x2', side:'right', range:[-0.0045, 0.00494], showticklabels:false,
    showgrid:false, zeroline:false, showline:false, ticks:'', fixedrange:true},
  yaxis4: {domain:[Y(858), Y(695)], anchor:'x3', side:'right', range:[15.46, 80.92], tickvals:[20,40,60,80], ticktext:['20.00','40.00','60.00','80.00'],
    showgrid:true, gridcolor:gridC, zeroline:false, showline:false, ticks:'', tickfont:tickFont, ticklabelstandoff:8, fixedrange:true},
  shapes:shapes, annotations:ann
};
Plotly.newPlot('chart', traces, layout, {staticPlot:true, displayModeBar:false});
</script></body></html>
